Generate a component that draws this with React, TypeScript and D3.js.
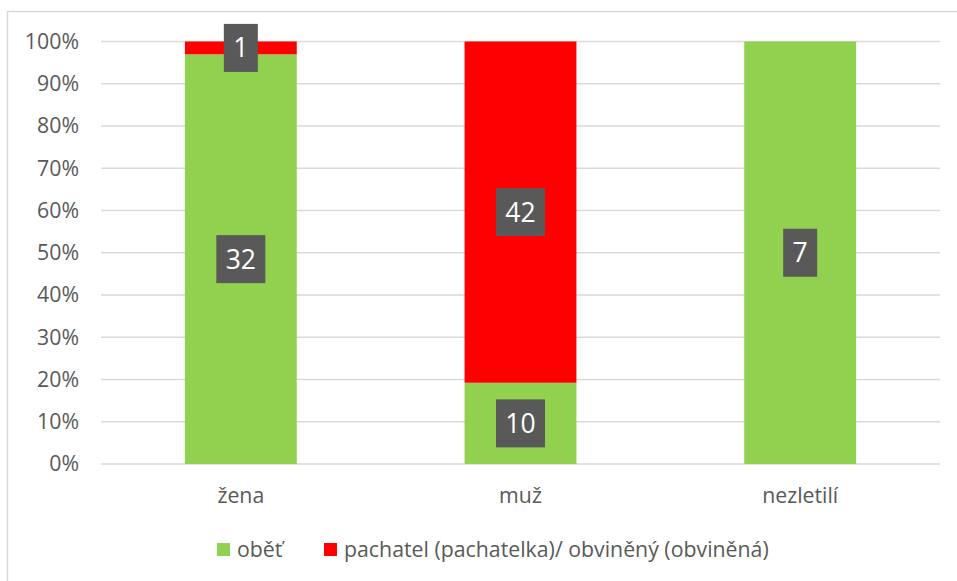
import * as d3 from 'd3'

// kategorie a hodnoty (počty)
const categories = ['žena', 'muž', 'nezletilí']
const seriesNames = ['oběť', 'pachatel (pachatelka)/ obviněný (obviněná)']
const obetValues = [32, 10, 7]
const pachatelValues = [1, 42, 0]
const yTicks = [0, 0.1, 0.2, 0.3, 0.4, 0.5, 0.6, 0.7, 0.8, 0.9, 1]
const colors = ['#92d050', '#ff0000']

const W = 957
const H = 581
const FONT = '"Open Sans", sans-serif'
const TEXT = '#595959'
const FS = 21.3

const App = () => {
  const rows = categories.map((c, i) => ({ cat: c, s0: obetValues[i], s1: pachatelValues[i] }))
  const stacked = d3.stack<any>().keys(['s0', 's1']).offset(d3.stackOffsetExpand)(rows)

  const x = d3.scaleBand().domain(categories).range([101, 940]).paddingInner(0.6).paddingOuter(0.3)
  const y = d3.scaleLinear().domain([0, 1]).range([464, 41.5])
  const fmt = d3.format('.0%')

  return (
    <svg width={W} height={H} style={{ position: 'absolute', left: 0, top: 0, background: '#fff' }}>
      <rect x={7.5} y={11.5} width={W + 10} height={H + 10} fill="#fff" stroke="#d9d9d9" strokeWidth={1.5} />

      {/* mřížka a popisky osy Y */}
      {yTicks.map(t => (
        <g key={t}>
          <line x1={101} x2={940} y1={y(t)} y2={y(t)} stroke="#d9d9d9" strokeWidth={1.3} />
          <text x={79} y={y(t)} dy="0.35em" textAnchor="end" fontFamily={FONT} fontSize={FS} fill={TEXT}>
            {fmt(t)}
          </text>
        </g>
      ))}

      {/* sloupce */}
      {stacked.map((layer, si) => (
        <g key={si} fill={colors[si]}>
          {layer.map((d, i) => (
            <rect key={i} x={x(categories[i])} width={x.bandwidth()} y={y(d[1])} height={Math.max(0, y(d[0]) - y(d[1]))} />
          ))}
        </g>
      ))}

      {/* popisky dat */}
      {stacked.map((layer, si) =>
        layer.map((d, i) => {
          const v = si === 0 ? obetValues[i] : pachatelValues[i]
          if (!v) return null
          const cx = (x(categories[i]) as number) + x.bandwidth() / 2
          const cy = y((d[0] + d[1]) / 2)
          const bw = String(v).length * 15 + 19
          return (
            <g key={si + '-' + i}>
              <rect x={cx - bw / 2} y={cy - 24} width={bw} height={48} fill="#595959" />
              <text x={cx} y={cy} dy="0.36em" textAnchor="middle" fontFamily={FONT} fontSize={26.5} fill="#fff">
                {v}
              </text>
            </g>
          )
        })
      )}

      {/* popisky osy X */}
      {categories.map(c => (
        <text key={c} x={(x(c) as number) + x.bandwidth() / 2} y={496} dy="0.35em" textAnchor="middle" fontFamily={FONT} fontSize={FS} fill={TEXT}>
          {c}
        </text>
      ))}

      {/* legenda */}
      {seriesNames.map((s, i) => {
        const lx = i === 0 ? 217 : 324
        return (
          <g key={s}>
            <rect x={lx} y={543} width={13} height={13} fill={colors[i]} />
            <text x={lx + 20} y={549.5} dy="0.35em" fontFamily={FONT} fontSize={FS} fill={TEXT}>
              {s}
            </text>
          </g>
        )
      })}
    </svg>
  )
}

export default App
